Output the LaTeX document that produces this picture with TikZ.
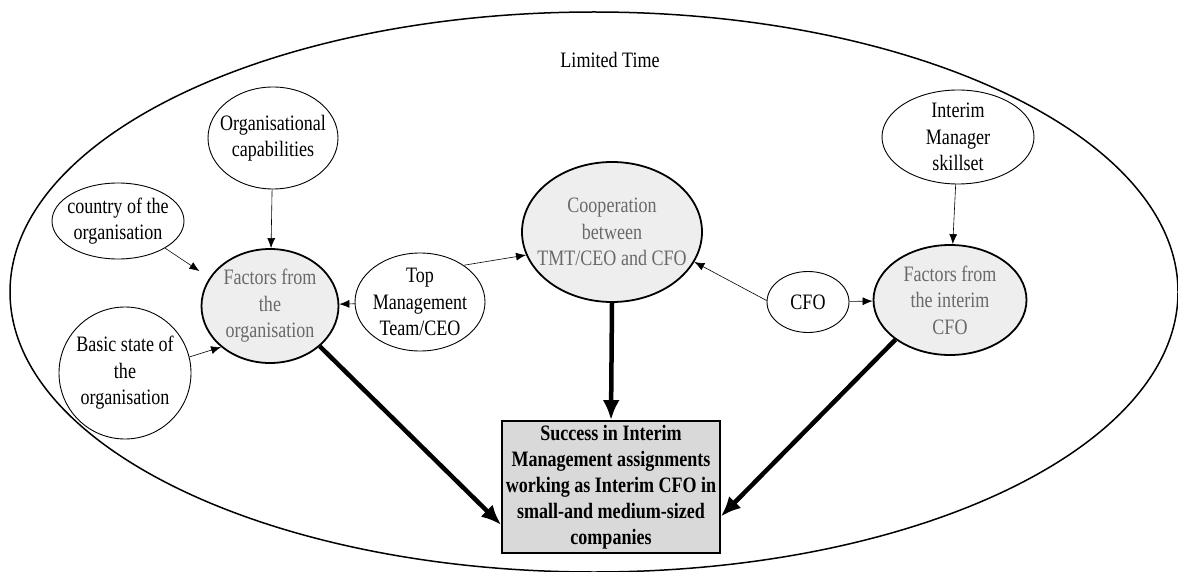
\documentclass[tikz,border=0pt]{standalone}
\usepackage{fontspec}
\setmainfont{Liberation Serif}[FakeStretch=0.82]
\usetikzlibrary{shapes.geometric,arrows.meta}
\definecolor{factorfill}{RGB}{238,238,238}
\definecolor{factortext}{RGB}{105,105,105}
\definecolor{goalfill}{RGB}{217,217,217}
\begin{document}
\begin{tikzpicture}[x=1pt,y=-1pt,
  every node/.style={font=\fontsize{22}{26.5}\selectfont, align=center, inner sep=0pt},
  input/.style={ellipse, draw, line width=0.9pt},
  factor/.style={ellipse, draw, line width=1.8pt, fill=factorfill},
  caption/.style={text=black},
  factorcaption/.style={text=factortext},
  goal/.style={rectangle, draw, line width=1.8pt, fill=goalfill,
    font=\fontsize{22}{26}\selectfont\bfseries},
  link/.style={line width=0.6pt, -{Latex[length=10pt,width=8pt]}},
  impact/.style={line width=4.5pt, -{Latex[length=20pt,width=17pt]}}]

\useasboundingbox (0,0) rectangle (1178,572);

% surrounding frame: the limited time of an assignment
\draw[line width=1.5pt] (594,292) ellipse [x radius=584pt, y radius=280pt];
\node (limit) at (610,60) {Limited Time};

% inputs
\node[input, minimum width=130pt, minimum height=102pt,
  label={[caption]center:Organisational\\capabilities}] (orgcap) at (273,138) {};
\node[input, minimum width=132pt, minimum height=76pt,
  label={[caption]center:country of the\\organisation}] (country) at (118,221) {};
\node[input, minimum width=132pt, minimum height=132pt,
  label={[caption]center:Basic state of\\the\\organisation}] (basic) at (125,373) {};
\node[input, minimum width=130pt, minimum height=98pt,
  label={[caption]center:Top\\Management\\Team/CEO}] (tmt) at (420,302) {};
\node[input, minimum width=152pt, minimum height=94pt,
  label={[caption]center:Interim\\Manager\\skillset}] (interim) at (958,137) {};
\node[input, minimum width=82pt, minimum height=61pt,
  label={[caption]center:CFO}] (cfo) at (808,302) {};

% factor groups
\node[factor, minimum width=137pt, minimum height=114pt,
  label={[factorcaption]center:Factors from\\the\\organisation}] (factorsorg) at (270,306) {};
\node[factor, minimum width=180pt, minimum height=140pt,
  label={[factorcaption]center:Cooperation\\between\\TMT/CEO and CFO}] (coop) at (612,232) {};
\node[factor, minimum width=153pt, minimum height=110pt,
  label={[factorcaption]center:Factors from\\the interim\\CFO}] (factorsint) at (950,300) {};

% outcome
\node[goal, minimum width=218pt, minimum height=132pt] (goal) at (611,487)
  {Success in Interim\\Management assignments\\working as Interim CFO in\\small-and medium-sized\\companies};

% thin influences
\draw[link] (orgcap) -- (factorsorg);
\draw[link, shorten >=12pt] (country.330) -- (factorsorg.155);
\draw[link] (basic.14) -- (factorsorg.220);
\draw[link] (tmt) -- (factorsorg);
\draw[link] (tmt.40) -- (coop.195);
\draw[link] (cfo.178) -- (coop.340);
\draw[link] (cfo) -- (factorsint);
\draw[link] (interim) -- (factorsint);

% main effects on success
\draw[impact] (factorsorg.321) -- (goal.199);
\draw[impact] (coop.south) -- (goal.north);
\draw[impact] (factorsint.216) -- (goal.345);
\end{tikzpicture}
\end{document}
